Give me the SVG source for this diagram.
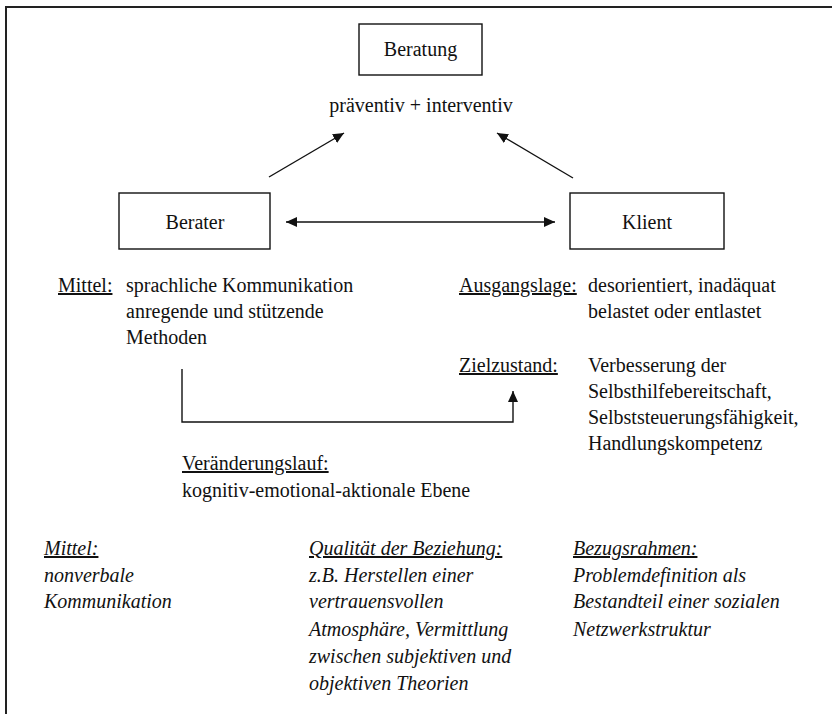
<svg xmlns="http://www.w3.org/2000/svg" width="832" height="714" viewBox="0 0 832 714">
<defs>
<style>
text{font-size:20px;fill:#111}
.c{text-anchor:middle}
.i{font-style:italic}
.u{text-decoration:underline}
.box{fill:#fff;stroke:#111;stroke-width:1.4}
.ln{fill:none;stroke:#111;stroke-width:1.4}
</style>
<marker id="ah" markerWidth="12" markerHeight="10" refX="11" refY="5" orient="auto" markerUnits="userSpaceOnUse">
<path d="M0,0 L11,5 L0,10 Z" fill="#111"/>
</marker>
<marker id="as" markerWidth="12" markerHeight="10" refX="1" refY="5" orient="auto" markerUnits="userSpaceOnUse">
<path d="M12,0 L1,5 L12,10 Z" fill="#111"/>
</marker>
</defs>
<rect width="832" height="714" fill="#fff"/>
<path d="M6,714 V7 H832" fill="none" stroke="#222" stroke-width="2"/>
<g font-family="'Liberation Serif', 'DejaVu Serif', serif">
<g id="beratung">
<rect class="box" x="359" y="24" width="123" height="51"/>
<text class="c" x="420.5" y="56">Beratung</text>
<text class="c" x="421" y="112">präventiv + interventiv</text>
</g>

<g id="berater">
<rect class="box" x="119" y="193" width="151" height="56"/>
<text class="c" x="195" y="229">Berater</text>
</g>

<g id="klient">
<rect class="box" x="570" y="193" width="154" height="56"/>
<text class="c" x="647" y="229">Klient</text>
</g>

<g id="connectors">
<line class="ln" x1="269" y1="177" x2="344" y2="133" marker-end="url(#ah)"/>
<line class="ln" x1="573" y1="178" x2="497" y2="133" marker-end="url(#ah)"/>
<line class="ln" x1="286" y1="222" x2="555" y2="222" marker-start="url(#as)" marker-end="url(#ah)"/>
<path class="ln" d="M182,369 V422 H513 V391" marker-end="url(#ah)"/>
</g>

<g id="mittel">
<text class="u" x="58" y="292">Mittel:</text>
<text x="126" y="292">sprachliche Kommunikation</text>
<text x="126" y="318">anregende und stützende</text>
<text x="126" y="344">Methoden</text>
</g>

<g id="ausgangslage">
<text class="u" x="459" y="292">Ausgangslage:</text>
<text x="588" y="292">desorientiert, inadäquat</text>
<text x="588" y="318">belastet oder entlastet</text>
</g>

<g id="zielzustand">
<text class="u" x="459" y="372">Zielzustand:</text>
<text x="588" y="372">Verbesserung der</text>
<text x="588" y="398">Selbsthilfebereitschaft,</text>
<text x="588" y="424">Selbststeuerungsfähigkeit,</text>
<text x="588" y="450">Handlungskompetenz</text>
</g>

<g id="veraenderungslauf">
<text class="u" x="182" y="470">Veränderungslauf:</text>
<text x="182" y="497">kognitiv-emotional-aktionale Ebene</text>
</g>

<g id="mittel2">
<text class="i u" x="44" y="555">Mittel:</text>
<text class="i" x="44" y="582">nonverbale</text>
<text class="i" x="44" y="608">Kommunikation</text>
</g>

<g id="qualitaet">
<text class="i u" x="309" y="555">Qualität der Beziehung:</text>
<text class="i" x="309" y="582">z.B. Herstellen einer</text>
<text class="i" x="309" y="608">vertrauensvollen</text>
<text class="i" x="309" y="636">Atmosphäre, Vermittlung</text>
<text class="i" x="309" y="663">zwischen subjektiven und</text>
<text class="i" x="309" y="690">objektiven Theorien</text>
</g>

<g id="bezugsrahmen">
<text class="i u" x="573" y="555">Bezugsrahmen:</text>
<text class="i" x="573" y="582">Problemdefinition als</text>
<text class="i" x="573" y="608">Bestandteil einer sozialen</text>
<text class="i" x="573" y="636">Netzwerkstruktur</text>
</g>
</g>
</svg>
